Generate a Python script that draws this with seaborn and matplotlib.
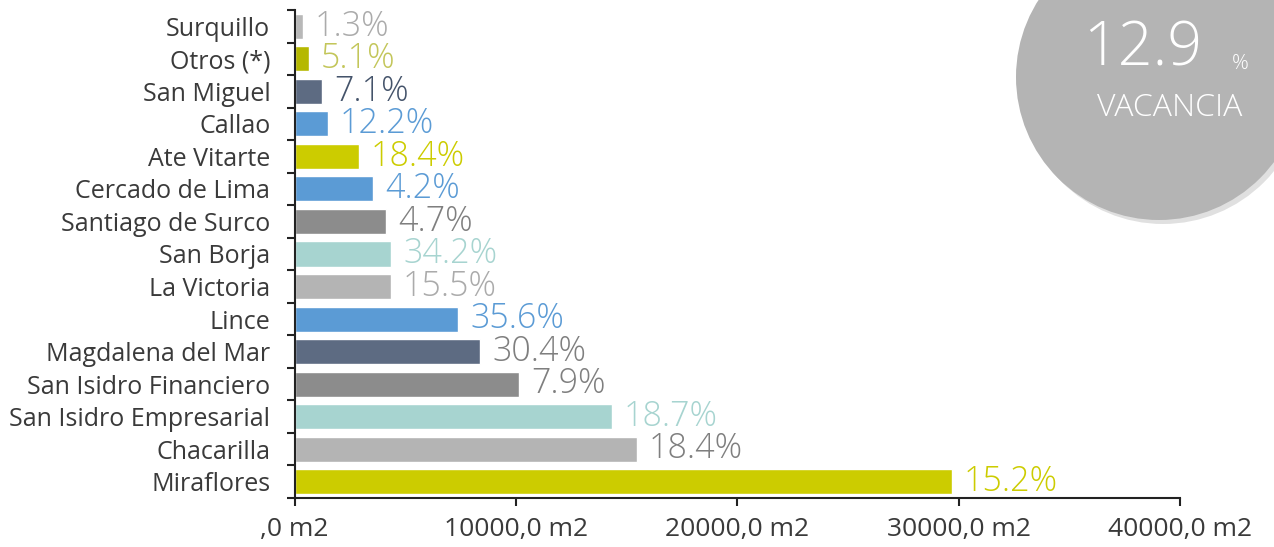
import matplotlib
matplotlib.use("Agg")
import matplotlib.pyplot as plt
import seaborn as sns
import pandas as pd
from matplotlib.patches import Circle

categories = ["Surquillo", "Otros (*)", "San Miguel", "Callao", "Ate Vitarte",
              "Cercado de Lima", "Santiago de Surco", "San Borja", "La Victoria",
              "Lince", "Magdalena del Mar", "San Isidro Financiero",
              "San Isidro Empresarial", "Chacarilla", "Miraflores"]
area_m2 = [360, 646, 1234, 1490, 2905, 3543, 4125, 4351, 4351, 7397, 8373,
           10135, 14337, 15467, 29688]
vacancy_labels = ["1.3%", "5.1%", "7.1%", "12.2%", "18.4%", "4.2%", "4.7%",
                  "34.2%", "15.5%", "35.6%", "30.4%", "7.9%", "18.7%",
                  "18.4%", "15.2%"]
x_ticks = [0, 10000, 20000, 30000, 40000]
x_tick_labels = [",0 m2", "10000,0 m2", "20000,0 m2", "30000,0 m2", "40000,0 m2"]
total_vacancy = "12.9"
total_label = "VACANCIA"

bar_colors = ["#b8b8b8", "#b5b800", "#5d6b82", "#5b9bd5", "#cccc00",
              "#5b9bd5", "#8c8c8c", "#a7d4d0", "#b4b4b4", "#5b9bd5",
              "#5d6b82", "#8c8c8c", "#a7d4d0", "#b4b4b4", "#cccc00"]
label_colors = ["#ababab", "#c3c65a", "#44536a", "#5b9bd5", "#cccc00",
                "#5b9bd5", "#7f7f7f", "#a7d4d0", "#ababab", "#5b9bd5",
                "#7f7f7f", "#7f7f7f", "#a7d4d0", "#7f7f7f", "#cccc00"]

sns.set_theme(style="white")
plt.rcParams["font.family"] = ["Open Sans", "DejaVu Sans"]
plt.rcParams["font.weight"] = "normal"

df = pd.DataFrame({"cat": categories, "area": area_m2})

fig = plt.figure(figsize=(12.74, 5.47), dpi=100)
ax = fig.add_axes([0.2313, 0.0896, 0.6949, 0.8921])

sns.barplot(data=df, y="cat", x="area", hue="cat", palette=bar_colors,
            order=categories, hue_order=categories, legend=False,
            width=0.77, saturation=1, ax=ax)

for i, (v, lab, c) in enumerate(zip(area_m2, vacancy_labels, label_colors)):
    ax.annotate(lab, xy=(v, i), xytext=(12, 0), textcoords="offset pixels",
                ha="left", va="center", fontsize=24.5, color=c,
                fontweight="light")

ax.set_xlim(0, 40000)
ax.set_ylim(len(categories) - 0.5, -0.5)
ax.set_xticks(x_ticks)
ax.set_xticklabels(x_tick_labels, fontsize=19, color="#3a3a3a")
ax.set_yticks([i - 0.5 for i in range(len(categories) + 1)], minor=False)
ax.set_yticklabels([])
ax.set_yticks(range(len(categories)), minor=True)
ax.set_yticklabels(categories, minor=True, fontsize=18, color="#3a3a3a")
ax.tick_params(axis="y", which="minor", left=True, length=0, pad=17.5)
ax.tick_params(axis="y", which="major", left=True, length=6, width=1.5,
               color="#222222", direction="out")
ax.tick_params(axis="x", bottom=True, length=6, width=1.5, color="#222222",
               direction="out", pad=8)
ax.set_xlabel("")
ax.set_ylabel("")
for s in ["top", "right"]:
    ax.spines[s].set_visible(False)
for s in ["left", "bottom"]:
    ax.spines[s].set_color("#222222")
    ax.spines[s].set_linewidth(1.5)

# circle badge
shadow = Circle((11.63, 4.66), 1.43, transform=fig.dpi_scale_trans,
                facecolor="#000000", alpha=0.12, edgecolor="none", zorder=5)
circ = Circle((11.59, 4.70), 1.43, transform=fig.dpi_scale_trans,
              facecolor="#b4b4b4", edgecolor="none", zorder=6)
fig.add_artist(shadow)
fig.add_artist(circ)
fig.text(1143 / 1274, 1 - 50 / 547, total_vacancy, ha="center", va="center",
         fontsize=44, color="white", zorder=7, fontweight="light")
fig.text(1240 / 1274, 1 - 64 / 547, "%", ha="center", va="center",
         fontsize=15, color="white", zorder=7, fontweight="light")
fig.text(1170 / 1274, 1 - 108 / 547, total_label, ha="center", va="center",
         fontsize=23, color="white", zorder=7, fontweight="light")

fig.savefig("out.png", dpi=100)
